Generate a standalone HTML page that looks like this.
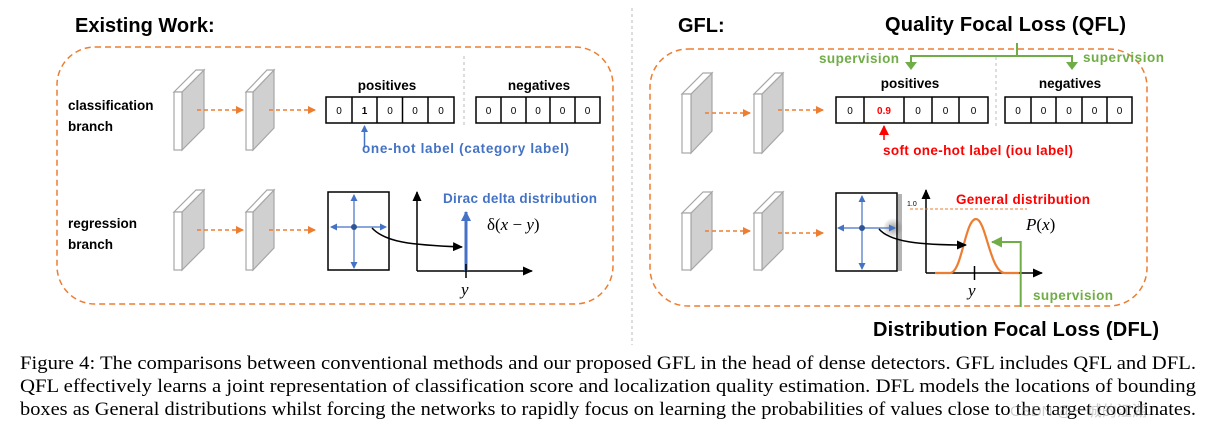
<!DOCTYPE html>
<html><head><meta charset="utf-8"><style>
html,body{margin:0;padding:0;background:#fff;}
svg{display:block;}
.b{font-family:"Liberation Sans",sans-serif;font-weight:bold;}
.d{font-family:"Liberation Sans",sans-serif;font-size:10px;}
.m{font-family:"Liberation Serif",serif;font-style:italic;}
.cap{font-family:"Liberation Serif",serif;font-size:19px;}
</style></head><body>
<svg width="1211" height="433" viewBox="0 0 1211 433" xmlns="http://www.w3.org/2000/svg">
<defs>
<marker id="ao" markerWidth="8" markerHeight="8" refX="7" refY="4" orient="auto" markerUnits="userSpaceOnUse"><path d="M0,0 L8,4 L0,8 z" fill="#ED7D31"/></marker>
<marker id="ak" markerWidth="10" markerHeight="9" refX="9" refY="4.5" orient="auto" markerUnits="userSpaceOnUse"><path d="M0,0 L10,4.5 L0,9 z" fill="#000"/></marker>
<marker id="ab" markerWidth="7" markerHeight="7" refX="6" refY="3.5" orient="auto" markerUnits="userSpaceOnUse"><path d="M0,0 L7,3.5 L0,7 z" fill="#4472C4"/></marker>
<marker id="abb" markerWidth="10" markerHeight="10" refX="9" refY="5" orient="auto" markerUnits="userSpaceOnUse"><path d="M0,0 L10,5 L0,10 z" fill="#4472C4"/></marker>
<marker id="ar" markerWidth="10" markerHeight="10" refX="9" refY="5" orient="auto" markerUnits="userSpaceOnUse"><path d="M0,0 L10,5 L0,10 z" fill="#f00"/></marker>
<marker id="ag" markerWidth="11" markerHeight="11" refX="10" refY="5.5" orient="auto" markerUnits="userSpaceOnUse"><path d="M0,0 L11,5.5 L0,11 z" fill="#70AD47"/></marker>
<radialGradient id="blur"><stop offset="0" stop-color="#888" stop-opacity="0.8"/><stop offset="1" stop-color="#888" stop-opacity="0"/></radialGradient>
</defs>

<text x="75" y="32" class="b" font-size="20">Existing Work:</text>
<text x="678" y="32" class="b" font-size="20">GFL:</text>
<text x="885" y="31" class="b" font-size="20" textLength="241">Quality Focal Loss (QFL)</text>
<text x="873" y="336" class="b" font-size="20" textLength="286">Distribution Focal Loss (DFL)</text>

<line x1="632" y1="8" x2="632" y2="345" stroke="#bbb" stroke-dasharray="3,3"/>

<rect x="57" y="47" width="556" height="257" rx="38" fill="none" stroke="#ED7D31" stroke-width="1.5" stroke-dasharray="6,4"/>
<rect x="650" y="49" width="497" height="257" rx="38" fill="none" stroke="#ED7D31" stroke-width="1.5" stroke-dasharray="6,4"/>

<g stroke="#a6a6a6" stroke-width="1.2">
<polygon points="182,92 204,70 204,128 182,150" fill="#d0d0d0"/><polygon points="174,92 182,92 204,70 196,70" fill="#fff"/><rect x="174" y="92" width="8" height="58" fill="#fff"/>
<polygon points="253,92 274,70 274,128 253,150" fill="#d0d0d0"/><polygon points="246,92 253,92 274,70 267,70" fill="#fff"/><rect x="246" y="92" width="7" height="58" fill="#fff"/>
<polygon points="182,212 204,190 204,248 182,270" fill="#d0d0d0"/><polygon points="174,212 182,212 204,190 196,190" fill="#fff"/><rect x="174" y="212" width="8" height="58" fill="#fff"/>
<polygon points="253,212 274,190 274,248 253,270" fill="#d0d0d0"/><polygon points="246,212 253,212 274,190 267,190" fill="#fff"/><rect x="246" y="212" width="7" height="58" fill="#fff"/>
<polygon points="691,94 712,73 712,131 691,153" fill="#d0d0d0"/><polygon points="682,94 691,94 712,73 703,73" fill="#fff"/><rect x="682" y="94" width="9" height="59" fill="#fff"/>
<polygon points="762,94 783,73 783,131 762,153" fill="#d0d0d0"/><polygon points="754,94 762,94 783,73 775,73" fill="#fff"/><rect x="754" y="94" width="8" height="59" fill="#fff"/>
<polygon points="691,213 712,192 712,249 691,270" fill="#d0d0d0"/><polygon points="682,213 691,213 712,192 703,192" fill="#fff"/><rect x="682" y="213" width="9" height="57" fill="#fff"/>
<polygon points="762,213 783,192 783,249 762,270" fill="#d0d0d0"/><polygon points="754,213 762,213 783,192 775,192" fill="#fff"/><rect x="754" y="213" width="8" height="57" fill="#fff"/>
</g>

<g stroke="#ED7D31" stroke-width="1.5" stroke-dasharray="4,3" marker-end="url(#ao)">
<line x1="197" y1="110" x2="243" y2="110"/><line x1="269" y1="110" x2="315" y2="110"/>
<line x1="197" y1="230" x2="243" y2="230"/><line x1="269" y1="230" x2="315" y2="230"/>
<line x1="705" y1="113" x2="750" y2="113"/><line x1="778" y1="110" x2="823" y2="110"/>
<line x1="705" y1="231" x2="750" y2="231"/><line x1="778" y1="233" x2="823" y2="233"/>
</g>

<text x="387" y="90" class="b" font-size="13.5" text-anchor="middle">positives</text>
<text x="539" y="90" class="b" font-size="13.5" text-anchor="middle">negatives</text>
<g fill="none" stroke="#000" stroke-width="1.5">
<rect x="326" y="97" width="128" height="26"/>
<line x1="352" y1="97" x2="352" y2="123"/><line x1="377" y1="97" x2="377" y2="123"/><line x1="402.5" y1="97" x2="402.5" y2="123"/><line x1="428" y1="97" x2="428" y2="123"/>
<rect x="476" y="97" width="124" height="26"/>
<line x1="501" y1="97" x2="501" y2="123"/><line x1="526" y1="97" x2="526" y2="123"/><line x1="550" y1="97" x2="550" y2="123"/><line x1="575" y1="97" x2="575" y2="123"/>
</g>
<g class="d" text-anchor="middle">
<text x="339" y="114">0</text><text x="364.5" y="114" font-weight="bold">1</text><text x="390" y="114">0</text><text x="415" y="114">0</text><text x="441" y="114">0</text>
<text x="488.5" y="114">0</text><text x="513.5" y="114">0</text><text x="538" y="114">0</text><text x="562.5" y="114">0</text><text x="587.5" y="114">0</text>
</g>
<line x1="464" y1="56" x2="464" y2="128" stroke="#bbb" stroke-dasharray="3,3"/>
<line x1="364.5" y1="148" x2="364.5" y2="126" stroke="#4472C4" stroke-width="1.5" marker-end="url(#ab)"/>
<text x="362" y="153" class="b" font-size="13.5" fill="#4472C4" textLength="207">one-hot label (category label)</text>
<text x="68" y="110" class="b" font-size="13.5">classification</text>
<text x="68" y="131" class="b" font-size="13.5">branch</text>
<text x="68" y="228" class="b" font-size="13.5">regression</text>
<text x="68" y="249" class="b" font-size="13.5">branch</text>

<rect x="328" y="192" width="61" height="78" fill="none" stroke="#000" stroke-width="1.5"/>
<g stroke="#4472C4" stroke-width="1.2" marker-end="url(#ab)">
<line x1="354" y1="227" x2="354" y2="195"/><line x1="354" y1="227" x2="354" y2="268"/>
<line x1="354" y1="227" x2="331" y2="227"/><line x1="354" y1="227" x2="386" y2="227"/>
</g>
<circle cx="354" cy="227" r="3" fill="#2F5597"/>
<line x1="417" y1="271" x2="417" y2="192" stroke="#000" stroke-width="1.5" marker-end="url(#ak)"/>
<line x1="417" y1="271" x2="532" y2="271" stroke="#000" stroke-width="1.5" marker-end="url(#ak)"/>
<line x1="466" y1="271" x2="466" y2="212" stroke="#4472C4" stroke-width="3" marker-end="url(#abb)"/>
<line x1="466" y1="264" x2="466" y2="278" stroke="#000" stroke-width="1.5"/>
<path d="M372,228 C385,242 410,245 462,247" fill="none" stroke="#000" stroke-width="1.5" marker-end="url(#ak)"/>
<text x="443" y="203" class="b" font-size="13.5" fill="#4472C4" textLength="154">Dirac delta distribution</text>
<text x="487" y="230" font-size="17" font-family="Liberation Serif,serif">δ(<tspan font-style="italic">x</tspan> − <tspan font-style="italic">y</tspan>)</text>
<text x="461" y="295" class="m" font-size="17">y</text>

<g stroke="#70AD47" stroke-width="2" fill="none">
<line x1="1017" y1="43" x2="1017" y2="56"/>
<polyline points="911,66 911,56 1072,56 1072,66" />
</g>
<path d="M905,62 L917,62 L911,70 z" fill="#70AD47"/>
<path d="M1066,62 L1078,62 L1072,70 z" fill="#70AD47"/>
<text x="819" y="63" class="b" font-size="13.5" fill="#70AD47" textLength="80">supervision</text>
<text x="1083" y="62" class="b" font-size="13.5" fill="#70AD47" textLength="81">supervision</text>

<text x="910" y="88" class="b" font-size="13.5" text-anchor="middle">positives</text>
<text x="1070" y="88" class="b" font-size="13.5" text-anchor="middle">negatives</text>
<g fill="none" stroke="#000" stroke-width="1.5">
<rect x="836" y="97" width="152" height="26"/>
<line x1="864" y1="97" x2="864" y2="123"/><line x1="904" y1="97" x2="904" y2="123"/><line x1="932" y1="97" x2="932" y2="123"/><line x1="959" y1="97" x2="959" y2="123"/>
<rect x="1005" y="97" width="127" height="26"/>
<line x1="1031" y1="97" x2="1031" y2="123"/><line x1="1056" y1="97" x2="1056" y2="123"/><line x1="1082" y1="97" x2="1082" y2="123"/><line x1="1107" y1="97" x2="1107" y2="123"/>
</g>
<g class="d" text-anchor="middle">
<text x="850" y="114">0</text><text x="884" y="114" font-weight="bold" fill="#f00">0.9</text><text x="918" y="114">0</text><text x="945.5" y="114">0</text><text x="973.5" y="114">0</text>
<text x="1018" y="114">0</text><text x="1043.5" y="114">0</text><text x="1069" y="114">0</text><text x="1094.5" y="114">0</text><text x="1119.5" y="114">0</text>
</g>
<line x1="996" y1="57" x2="996" y2="128" stroke="#bbb" stroke-dasharray="3,3"/>
<line x1="884" y1="140" x2="884" y2="126" stroke="#f00" stroke-width="1.5" marker-end="url(#ar)"/>
<text x="883" y="155" class="b" font-size="13.5" fill="#f00" textLength="190">soft one-hot label (iou label)</text>

<circle cx="893" cy="228" r="10" fill="url(#blur)"/>
<rect x="836" y="193" width="61" height="78" fill="none" stroke="#000" stroke-width="1.5"/>
<line x1="899" y1="194" x2="899" y2="271" stroke="#444" stroke-width="0.8"/>
<line x1="901" y1="194" x2="901" y2="271" stroke="#444" stroke-width="0.8"/>
<g stroke="#4472C4" stroke-width="1.2" marker-end="url(#ab)">
<line x1="862" y1="228" x2="862" y2="196"/><line x1="862" y1="228" x2="862" y2="269"/>
<line x1="862" y1="228" x2="838" y2="228"/><line x1="862" y1="228" x2="895" y2="228"/>
</g>
<circle cx="862" cy="228" r="3" fill="#2F5597"/>
<line x1="926" y1="273" x2="926" y2="190" stroke="#000" stroke-width="1.5" marker-end="url(#ak)"/>
<line x1="926" y1="273" x2="1042" y2="273" stroke="#000" stroke-width="1.5" marker-end="url(#ak)"/>
<line x1="910" y1="209" x2="1027" y2="209" stroke="#ED7D31" stroke-width="1" stroke-dasharray="3,2"/>
<text x="907" y="206" font-family="Liberation Sans,sans-serif" font-size="7">1.0</text>
<path d="M935,273 L950,273 C962,273 965,219 976,219 C986,219 990,273 1005,273 L1019,273" fill="none" stroke="#ED7D31" stroke-width="2.2"/>
<line x1="974.5" y1="266" x2="974.5" y2="280" stroke="#000" stroke-width="1.5"/>
<path d="M879,229 C890,242 920,245 966,245" fill="none" stroke="#000" stroke-width="1.5" marker-end="url(#ak)"/>
<polyline points="1020.7,307 1020.7,242 992,242" fill="none" stroke="#70AD47" stroke-width="2" marker-end="url(#ag)"/>
<text x="956" y="204" class="b" font-size="13.5" fill="#f00" textLength="134">General distribution</text>
<text x="1026" y="230" class="m" font-size="17">P<tspan font-style="normal">(</tspan>x<tspan font-style="normal">)</tspan></text>
<text x="968" y="296" class="m" font-size="17">y</text>
<text x="1033" y="300" class="b" font-size="13.5" fill="#70AD47" textLength="80">supervision</text>

<text x="20" y="369" class="cap" textLength="1176" lengthAdjust="spacingAndGlyphs">Figure 4: The comparisons between conventional methods and our proposed GFL in the head of dense detectors. GFL includes QFL and DFL.</text>
<text x="20" y="392" class="cap" textLength="1176" lengthAdjust="spacingAndGlyphs">QFL effectively learns a joint representation of classification score and localization quality estimation. DFL models the locations of bounding</text>
<text x="20" y="415" class="cap" textLength="1176" lengthAdjust="spacingAndGlyphs">boxes as General distributions whilst forcing the networks to rapidly focus on learning the probabilities of values close to the target coordinates.</text>
<text x="1010" y="416" font-family="Liberation Sans,'Noto Sans CJK SC',sans-serif" font-size="15" fill="#999" fill-opacity="0.5">CSDN @一城的江湖</text>
</svg>
</body></html>
